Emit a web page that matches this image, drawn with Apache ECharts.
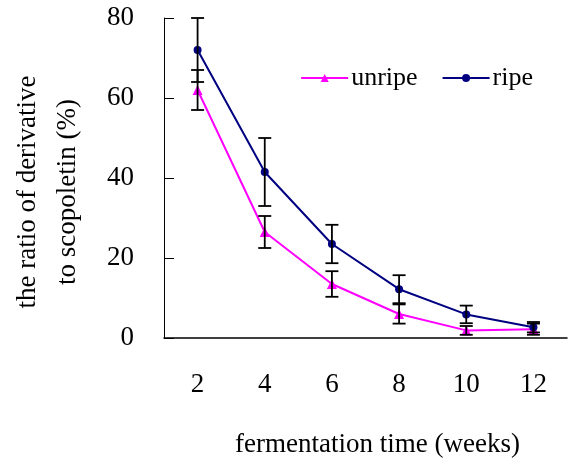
<!DOCTYPE html>
<html>
<head>
<meta charset="utf-8">
<script src="https://cdn.jsdelivr.net/npm/echarts@6/dist/echarts.min.js"></script>
<style>
  html, body { margin: 0; padding: 0; background: #fff; }
  #chart { width: 572px; height: 463px; }
</style>
</head>
<body>
<div id="chart"></div>
<script>
// Fermentation time in weeks
const weeks = ['2', '4', '6', '8', '10', '12'];
// Ratio of derivatives to scopoletin (%) and standard deviations
const unripe = [62, 26.5, 13.5, 6, 1.9, 2.2];
const unripeErr = [5, 4, 3.2, 2.4, 1.1, 1.4];
const ripe = [72, 41.5, 23.5, 12.2, 5.9, 2.7];
const ripeErr = [8, 8.5, 4.8, 3.5, 2.2, 1.3];
const yTicks = [0, 20, 40, 60, 80];

const FONT = '"Liberation Serif", "Times New Roman", serif';

function errorData(vals, errs) {
  return vals.map((v, i) => [i, v - errs[i], v + errs[i]]);
}

function renderErrorBar(params, api) {
  const idx = api.value(0);
  const lo = api.coord([idx, api.value(1)]);
  const hi = api.coord([idx, api.value(2)]);
  const half = 6.5;
  const style = { stroke: '#000', lineWidth: 1.8 };
  return {
    type: 'group',
    children: [
      { type: 'line', shape: { x1: hi[0], y1: hi[1], x2: lo[0], y2: lo[1] }, style },
      { type: 'line', shape: { x1: hi[0] - half, y1: hi[1], x2: hi[0] + half, y2: hi[1] }, style },
      { type: 'line', shape: { x1: lo[0] - half, y1: lo[1], x2: lo[0] + half, y2: lo[1] }, style }
    ]
  };
}

const chart = echarts.init(document.getElementById('chart'), null, { renderer: 'canvas' });

chart.setOption({
  animation: false,
  backgroundColor: '#fff',
  textStyle: { fontFamily: FONT },
  grid: { left: 164, right: 5, top: 18, bottom: 124, containLabel: false },
  legend: {
    right: 34,
    top: 60,
    itemWidth: 47,
    itemHeight: 10,
    itemGap: 24,
    data: ['unripe', 'ripe'],
    textStyle: { fontFamily: FONT, fontSize: 26, color: '#000', padding: [0, 0, 0, -2] }
  },
  graphic: [{
    type: 'text',
    x: 48,
    y: 192,
    rotation: Math.PI / 2,
    style: {
      text: 'the ratio of derivatives\nto scopoletin (%)',
      font: '27px ' + FONT,
      fill: '#000',
      align: 'center',
      verticalAlign: 'middle',
      lineHeight: 40,
      width: 236,
      overflow: 'truncate',
      ellipsis: ''
    }
  }],
  xAxis: {
    type: 'category',
    data: weeks,
    boundaryGap: true,
    name: 'fermentation time (weeks)',
    nameLocation: 'middle',
    nameGap: 93,
    nameTextStyle: { fontFamily: FONT, fontSize: 27, color: '#000', padding: [0, 0, 0, 24] },
    axisLine: { lineStyle: { color: '#000', width: 1.5 } },
    axisTick: { inside: true, length: 9, alignWithLabel: false, lineStyle: { color: '#000' } },
    axisLabel: { fontFamily: FONT, fontSize: 27, color: '#000', margin: 33 },
    splitLine: { show: false }
  },
  yAxis: {
    type: 'value',
    min: 0,
    max: 80,
    interval: 20,
    axisLine: { show: true, lineStyle: { color: '#000', width: 1 } },
    axisTick: { show: true, inside: true, length: 10, lineStyle: { color: '#000' } },
    axisLabel: {
      fontFamily: FONT, fontSize: 27, color: '#000', margin: 30,
      formatter: v => (yTicks.indexOf(v) >= 0 ? String(v) : '')
    },
    splitLine: { show: false }
  },
  series: [
    {
      name: 'unripe',
      type: 'line',
      data: unripe,
      symbol: 'triangle',
      symbolSize: 10,
      lineStyle: { color: '#FF00FF', width: 2 },
      itemStyle: { color: '#FF00FF' },
      z: 3
    },
    {
      name: 'ripe',
      type: 'line',
      data: ripe,
      symbol: 'circle',
      symbolSize: 8,
      lineStyle: { color: '#000080', width: 2 },
      itemStyle: { color: '#000080' },
      z: 3
    },
    {
      name: 'unripe-err',
      type: 'custom',
      data: errorData(unripe, unripeErr),
      renderItem: renderErrorBar,
      encode: { x: 0, y: [1, 2] },
      z: 4,
      silent: true
    },
    {
      name: 'ripe-err',
      type: 'custom',
      data: errorData(ripe, ripeErr),
      renderItem: renderErrorBar,
      encode: { x: 0, y: [1, 2] },
      z: 4,
      silent: true
    }
  ]
});
</script>
</body>
</html>
